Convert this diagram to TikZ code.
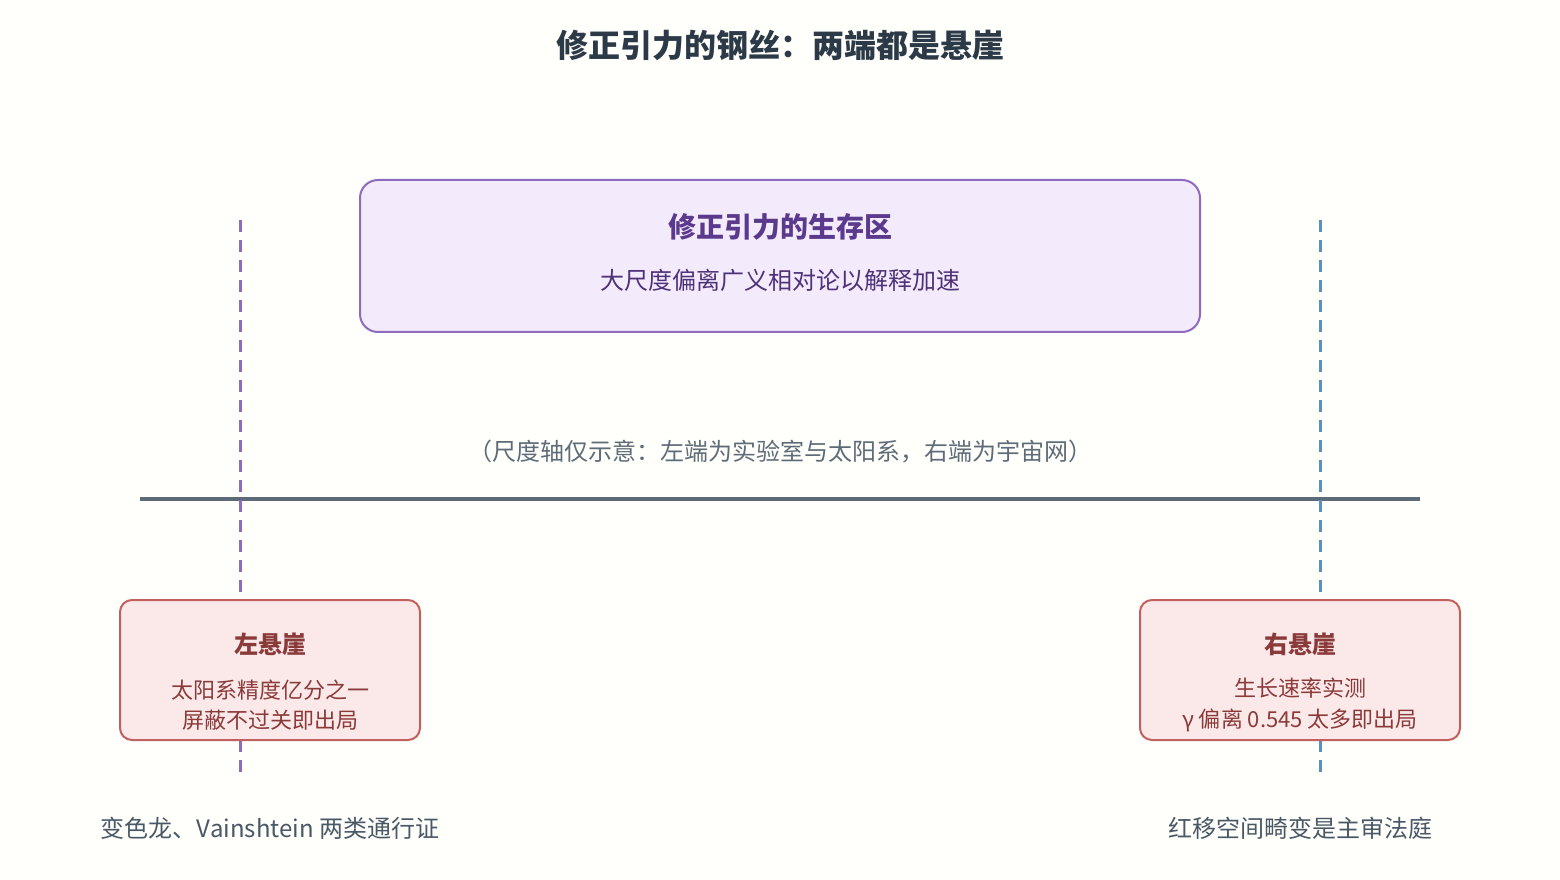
\documentclass[tikz,border=0pt]{standalone}
\usepackage{fontspec}
\setmainfont{Noto Sans CJK SC}
\usepackage{xcolor}
\definecolor{inkdark}{HTML}{2C3A47}
\definecolor{zonefill}{HTML}{F3EBFB}
\definecolor{zoneline}{HTML}{8E6BBF}
\definecolor{zoneink}{HTML}{5B3A8E}
\definecolor{capgray}{HTML}{5F6B76}
\definecolor{axisgray}{HTML}{5D6B78}
\definecolor{rightblue}{HTML}{5B8FC4}
\definecolor{clifffill}{HTML}{FBE9E9}
\definecolor{cliffline}{HTML}{C0605F}
\definecolor{cliffink}{HTML}{8B3A3A}
\definecolor{notegray}{HTML}{4A5866}

\tikzset{
  cliffbox/.style={draw=cliffline, fill=clifffill, line width=1.5pt, rounded corners=9pt, minimum height=105pt},
  cliffhead/.style={text=cliffink, font=\fontsize{18pt}{21pt}\selectfont\bfseries},
  cliffbody/.style={text=cliffink, align=center, font=\fontsize{16.5pt}{23pt}\selectfont},
  wall/.style={line width=2.25pt, dash pattern=on 9pt off 6pt},
  notetext/.style={text=notegray, font=\fontsize{18pt}{21pt}\selectfont}
}

\begin{document}
\begin{tikzpicture}[x=0.75pt,y=0.75pt,yscale=-1,xscale=1]
\useasboundingbox (0,0) rectangle (1560,880);
\fill[white!99!yellow] (0,0) rectangle (1560,880);

% Title
\node[text=inkdark, font=\fontsize{24pt}{28pt}\selectfont\bfseries] (title) at (780,45) {修正引力的钢丝：两端都是悬崖};

% survival zone
\node[draw=zoneline, fill=zonefill, line width=1.5pt, rounded corners=13.5pt, minimum width=630pt, minimum height=114pt] (zone) at (780,256) {};
\node[text=zoneink, font=\fontsize{21pt}{25pt}\selectfont\bfseries] (zonehead) at (780,227) {修正引力的生存区};
\node[text=zoneink!85!black, font=\fontsize{18pt}{22pt}\selectfont] (zonebody) at (780,280) {大尺度偏离广义相对论以解释加速};

% scale axis
\node[text=capgray, font=\fontsize{18pt}{21pt}\selectfont] (scalecap) at (780,452) {（尺度轴仅示意：左端为实验室与太阳系，右端为宇宙网）};
\coordinate (axisL) at (140,499);
\coordinate (axisR) at (1420,499);
\draw[axisgray, line width=3pt] (axisL) -- (axisR);

% cliff walls
\coordinate (lwalltop) at (240,220);
\coordinate (lwallbot) at (240,772);
\coordinate (rwalltop) at (1320,220);
\coordinate (rwallbot) at (1320,772);
\draw[wall, zoneline] (lwalltop) -- (lwallbot);
\draw[wall, rightblue] (rwalltop) -- (rwallbot);

% left cliff
\node[cliffbox, minimum width=225pt] (lcliff) at (270,670) {};
\node[cliffhead] (lhead) at (270,644) {左悬崖};
\node[cliffbody] (lbody) at (270,705) {太阳系精度亿分之一\\屏蔽不过关即出局};

% right cliff
\node[cliffbox, minimum width=240pt] (rcliff) at (1300,670) {};
\node[cliffhead] (rhead) at (1300,644) {右悬崖};
\node[cliffbody] (rbody) at (1300,705) {生长速率实测\\γ 偏离 0.545 太多即出局};

% notes
\node[notetext] (lnote) at (270,828) {变色龙、Vainshtein 两类通行证};
\node[notetext] (rnote) at (1300,828) {红移空间畸变是主审法庭};

\end{tikzpicture}
\end{document}
